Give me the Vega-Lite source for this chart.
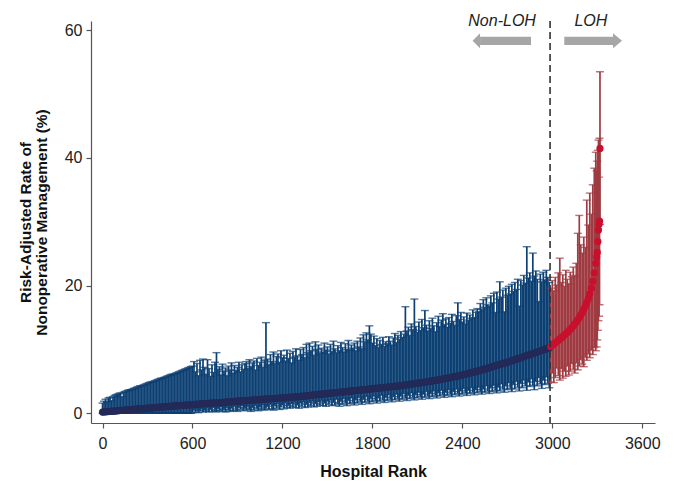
{
  "$schema": "https://vega.github.io/schema/vega-lite/v6.json",
  "width": 564,
  "height": 402,
  "autosize": {"type": "none"},
  "padding": {"left": 91, "top": 21, "right": 23, "bottom": 59},
  "background": "white",
  "config": {
    "view": {"stroke": null},
    "font": "Liberation Sans",
    "axis": {
      "grid": false,
      "domainColor": "#555555",
      "tickColor": "#555555",
      "tickSize": 5,
      "domainWidth": 1.2,
      "tickWidth": 1.2,
      "labelColor": "#222222",
      "labelFont": "Liberation Sans",
      "labelFontSize": 16,
      "titleColor": "#111111",
      "titleFont": "Liberation Sans",
      "titleFontWeight": "bold"
    }
  },
  "datasets": {
    "h": [
      {"r":0,"v":0.2,"l":0,"h":1.6},{"r":10,"v":0.22,"l":0,"h":1.9},{"r":20,"v":0.24,"l":0,"h":2.2},{"r":30,"v":0.26,"l":0,"h":1.8},{"r":40,"v":0.28,"l":0,"h":2.4},
      {"r":50,"v":0.3,"l":0,"h":2.5},{"r":60,"v":0.31,"l":0,"h":2.0},{"r":70,"v":0.33,"l":0,"h":2.6},{"r":80,"v":0.35,"l":0,"h":2.8},{"r":90,"v":0.37,"l":0,"h":2.9},
      {"r":100,"v":0.4,"l":0,"h":3.0},{"r":110,"v":0.42,"l":0,"h":3.1},{"r":120,"v":0.44,"l":0,"h":3.2},{"r":130,"v":0.46,"l":0,"h":2.6},{"r":140,"v":0.48,"l":0,"h":3.3},
      {"r":150,"v":0.5,"l":0,"h":3.4},{"r":160,"v":0.52,"l":0,"h":3.5},{"r":170,"v":0.54,"l":0,"h":3.6},{"r":180,"v":0.56,"l":0,"h":3.7},{"r":190,"v":0.58,"l":0,"h":3.7},
      {"r":200,"v":0.6,"l":0,"h":3.8},{"r":210,"v":0.62,"l":0,"h":3.9},{"r":220,"v":0.64,"l":0,"h":4.0},{"r":230,"v":0.66,"l":0,"h":4.1},{"r":240,"v":0.68,"l":0,"h":4.2},
      {"r":250,"v":0.7,"l":0,"h":4.3},{"r":260,"v":0.72,"l":0,"h":4.3},{"r":270,"v":0.74,"l":0,"h":4.4},{"r":280,"v":0.76,"l":0,"h":4.5},{"r":290,"v":0.78,"l":0,"h":4.6},
      {"r":300,"v":0.8,"l":0,"h":4.7},{"r":310,"v":0.82,"l":0,"h":4.8},{"r":320,"v":0.84,"l":0,"h":4.9},{"r":330,"v":0.86,"l":0,"h":4.9},{"r":340,"v":0.88,"l":0,"h":5.0},
      {"r":350,"v":0.9,"l":0,"h":5.1},{"r":360,"v":0.92,"l":0,"h":5.2},{"r":370,"v":0.94,"l":0,"h":5.3},{"r":380,"v":0.96,"l":0,"h":5.4},{"r":390,"v":0.98,"l":0,"h":5.5},
      {"r":400,"v":1.0,"l":0,"h":5.5},{"r":410,"v":1.02,"l":0,"h":5.6},{"r":420,"v":1.04,"l":0,"h":5.7},{"r":430,"v":1.06,"l":0,"h":5.8},{"r":440,"v":1.08,"l":0,"h":5.9},
      {"r":450,"v":1.1,"l":0,"h":6.0},{"r":460,"v":1.12,"l":0,"h":6.1},{"r":470,"v":1.14,"l":0,"h":6.1},{"r":480,"v":1.16,"l":0,"h":6.2},{"r":490,"v":1.18,"l":0,"h":6.3},
      {"r":500,"v":1.2,"l":0,"h":6.4},{"r":510,"v":1.21,"l":0,"h":6.5},{"r":520,"v":1.23,"l":0,"h":6.6},{"r":530,"v":1.24,"l":0,"h":6.7},{"r":540,"v":1.26,"l":0,"h":6.8},
      {"r":550,"v":1.27,"l":0,"h":6.9},{"r":560,"v":1.29,"l":0,"h":7.0},{"r":570,"v":1.3,"l":0,"h":7.1},{"r":580,"v":1.32,"l":0,"h":7.2},{"r":590,"v":1.33,"l":0,"h":7.3},
      {"r":600,"v":1.35,"l":0.1,"h":7.4},{"r":610,"v":1.37,"l":0.5,"h":8.1},{"r":620,"v":1.39,"l":0.2,"h":6.5},{"r":630,"v":1.41,"l":0.6,"h":7.8},{"r":640,"v":1.43,"l":0.1,"h":5.9},
      {"r":650,"v":1.45,"l":0.4,"h":8.3},{"r":660,"v":1.47,"l":0.7,"h":6.8},{"r":670,"v":1.49,"l":0.2,"h":8.5},{"r":680,"v":1.51,"l":0.5,"h":7.2},{"r":690,"v":1.53,"l":0.3,"h":6.1},
      {"r":700,"v":1.55,"l":0.8,"h":8.4},{"r":710,"v":1.56,"l":0.2,"h":7.0},{"r":720,"v":1.58,"l":0.6,"h":5.8},{"r":730,"v":1.59,"l":0.3,"h":7.6},{"r":740,"v":1.61,"l":0.9,"h":6.4},
      {"r":750,"v":1.62,"l":0.4,"h":8.0},{"r":760,"v":1.64,"l":0.2,"h":9.5},{"r":770,"v":1.65,"l":0.7,"h":6.9},{"r":780,"v":1.67,"l":0.4,"h":7.3},{"r":790,"v":1.68,"l":1.0,"h":6.0},
      {"r":800,"v":1.7,"l":0.3,"h":7.7},{"r":810,"v":1.72,"l":0.6,"h":6.6},{"r":820,"v":1.74,"l":0.2,"h":7.1},{"r":830,"v":1.76,"l":0.9,"h":5.9},{"r":840,"v":1.78,"l":0.5,"h":7.4},
      {"r":850,"v":1.8,"l":0.3,"h":6.8},{"r":860,"v":1.82,"l":0.8,"h":7.9},{"r":870,"v":1.84,"l":0.4,"h":6.3},{"r":880,"v":1.86,"l":1.1,"h":7.5},{"r":890,"v":1.88,"l":0.5,"h":6.7},
      {"r":900,"v":1.9,"l":0.3,"h":7.2},{"r":910,"v":1.91,"l":0.9,"h":8.0},{"r":920,"v":1.93,"l":0.6,"h":6.5},{"r":930,"v":1.94,"l":1.2,"h":7.6},{"r":940,"v":1.96,"l":0.4,"h":6.9},
      {"r":950,"v":1.97,"l":0.8,"h":7.8},{"r":960,"v":1.99,"l":0.5,"h":8.1},{"r":970,"v":2.0,"l":1.1,"h":7.0},{"r":980,"v":2.02,"l":0.6,"h":8.4},{"r":990,"v":2.03,"l":0.3,"h":7.3},
      {"r":1000,"v":2.05,"l":0.9,"h":7.9},{"r":1010,"v":2.07,"l":0.5,"h":8.2},{"r":1020,"v":2.09,"l":1.2,"h":6.8},{"r":1030,"v":2.11,"l":0.7,"h":8.6},{"r":1040,"v":2.13,"l":0.4,"h":7.5},
      {"r":1050,"v":2.15,"l":1.0,"h":8.0},{"r":1060,"v":2.17,"l":0.6,"h":8.8},{"r":1070,"v":2.19,"l":1.3,"h":7.2},{"r":1080,"v":2.21,"l":0.5,"h":8.3},{"r":1090,"v":2.23,"l":0.8,"h":14.2},
      {"r":1100,"v":2.25,"l":1.1,"h":8.5},{"r":1110,"v":2.26,"l":0.6,"h":7.6},{"r":1120,"v":2.28,"l":1.4,"h":9.2},{"r":1130,"v":2.29,"l":0.7,"h":8.1},{"r":1140,"v":2.31,"l":0.5,"h":9.6},
      {"r":1150,"v":2.32,"l":1.2,"h":7.8},{"r":1160,"v":2.34,"l":0.8,"h":8.9},{"r":1170,"v":2.35,"l":1.5,"h":9.3},{"r":1180,"v":2.37,"l":0.6,"h":8.0},{"r":1190,"v":2.38,"l":1.0,"h":9.8},
      {"r":1200,"v":2.4,"l":1.3,"h":8.7},{"r":1210,"v":2.42,"l":0.7,"h":9.1},{"r":1220,"v":2.44,"l":1.6,"h":8.2},{"r":1230,"v":2.46,"l":0.9,"h":9.9},{"r":1240,"v":2.48,"l":1.2,"h":8.6},
      {"r":1250,"v":2.5,"l":0.8,"h":9.4},{"r":1260,"v":2.52,"l":1.5,"h":7.9},{"r":1270,"v":2.54,"l":1.0,"h":9.7},{"r":1280,"v":2.56,"l":1.7,"h":8.8},{"r":1290,"v":2.58,"l":0.9,"h":10.1},
      {"r":1300,"v":2.6,"l":1.3,"h":9.0},{"r":1310,"v":2.62,"l":0.8,"h":8.3},{"r":1320,"v":2.64,"l":1.6,"h":10.0},{"r":1330,"v":2.66,"l":1.1,"h":9.2},{"r":1340,"v":2.68,"l":1.8,"h":10.3},
      {"r":1350,"v":2.7,"l":0.9,"h":8.7},{"r":1360,"v":2.73,"l":1.4,"h":10.8},{"r":1370,"v":2.75,"l":1.0,"h":9.5},{"r":1380,"v":2.78,"l":1.7,"h":11.0},{"r":1390,"v":2.8,"l":1.2,"h":9.8},
      {"r":1400,"v":2.85,"l":1.9,"h":10.5},{"r":1410,"v":2.87,"l":1.0,"h":9.1},{"r":1420,"v":2.9,"l":1.5,"h":11.2},{"r":1430,"v":2.92,"l":1.1,"h":10.0},{"r":1440,"v":2.95,"l":1.8,"h":10.7},
      {"r":1450,"v":2.97,"l":1.3,"h":9.4},{"r":1460,"v":3.0,"l":2.0,"h":10.2},{"r":1470,"v":3.02,"l":1.2,"h":9.6},{"r":1480,"v":3.05,"l":1.6,"h":11.0},{"r":1490,"v":3.07,"l":1.1,"h":9.9},
      {"r":1500,"v":3.1,"l":1.9,"h":10.4},{"r":1510,"v":3.12,"l":1.4,"h":9.3},{"r":1520,"v":3.15,"l":2.1,"h":10.8},{"r":1530,"v":3.17,"l":1.2,"h":9.7},{"r":1540,"v":3.2,"l":1.7,"h":11.3},
      {"r":1550,"v":3.22,"l":1.3,"h":10.1},{"r":1560,"v":3.25,"l":2.2,"h":9.5},{"r":1570,"v":3.27,"l":1.5,"h":10.6},{"r":1580,"v":3.3,"l":1.1,"h":9.8},{"r":1590,"v":3.32,"l":1.9,"h":11.1},
      {"r":1600,"v":3.35,"l":1.4,"h":10.3},{"r":1610,"v":3.37,"l":2.3,"h":9.6},{"r":1620,"v":3.4,"l":1.6,"h":10.9},{"r":1630,"v":3.42,"l":1.2,"h":10.0},{"r":1640,"v":3.45,"l":2.0,"h":11.4},
      {"r":1650,"v":3.47,"l":1.5,"h":9.9},{"r":1660,"v":3.5,"l":2.4,"h":10.7},{"r":1670,"v":3.52,"l":1.7,"h":10.2},{"r":1680,"v":3.55,"l":1.3,"h":11.0},{"r":1690,"v":3.57,"l":2.1,"h":9.8},
      {"r":1700,"v":3.6,"l":1.6,"h":11.3},{"r":1710,"v":3.62,"l":2.5,"h":10.4},{"r":1720,"v":3.65,"l":1.8,"h":11.8},{"r":1730,"v":3.67,"l":1.4,"h":10.1},{"r":1740,"v":3.7,"l":2.2,"h":12.3},
      {"r":1750,"v":3.72,"l":1.7,"h":11.2},{"r":1760,"v":3.75,"l":2.6,"h":12.6},{"r":1770,"v":3.77,"l":1.9,"h":11.5},{"r":1780,"v":3.8,"l":1.5,"h":13.7},{"r":1790,"v":3.82,"l":2.3,"h":12.4},
      {"r":1800,"v":3.85,"l":1.8,"h":11.0},{"r":1810,"v":3.87,"l":2.7,"h":12.1},{"r":1820,"v":3.9,"l":2.0,"h":10.6},{"r":1830,"v":3.92,"l":1.6,"h":11.7},{"r":1840,"v":3.95,"l":2.4,"h":10.3},
      {"r":1850,"v":3.97,"l":1.9,"h":11.4},{"r":1860,"v":4.0,"l":2.8,"h":10.8},{"r":1870,"v":4.02,"l":2.1,"h":11.9},{"r":1880,"v":4.05,"l":1.7,"h":10.5},{"r":1890,"v":4.07,"l":2.5,"h":11.2},
      {"r":1900,"v":4.1,"l":2.0,"h":10.9},{"r":1910,"v":4.12,"l":2.9,"h":12.0},{"r":1920,"v":4.15,"l":2.2,"h":11.3},{"r":1930,"v":4.17,"l":1.8,"h":10.7},{"r":1940,"v":4.2,"l":2.6,"h":11.8},
      {"r":1950,"v":4.22,"l":2.1,"h":12.5},{"r":1960,"v":4.25,"l":3.0,"h":11.1},{"r":1970,"v":4.27,"l":2.3,"h":12.2},{"r":1980,"v":4.3,"l":1.9,"h":11.6},{"r":1990,"v":4.33,"l":2.7,"h":12.8},
      {"r":2000,"v":4.36,"l":2.2,"h":11.9},{"r":2010,"v":4.4,"l":3.1,"h":12.4},{"r":2020,"v":4.43,"l":2.4,"h":16.7},{"r":2030,"v":4.47,"l":2.0,"h":12.9},{"r":2040,"v":4.5,"l":2.8,"h":13.5},
      {"r":2050,"v":4.54,"l":2.3,"h":12.2},{"r":2060,"v":4.57,"l":3.2,"h":14.0},{"r":2070,"v":4.61,"l":2.5,"h":13.1},{"r":2080,"v":4.65,"l":2.1,"h":17.9},{"r":2090,"v":4.68,"l":2.9,"h":13.6},
      {"r":2100,"v":4.72,"l":2.4,"h":12.7},{"r":2110,"v":4.75,"l":3.3,"h":14.3},{"r":2120,"v":4.79,"l":2.6,"h":13.0},{"r":2130,"v":4.82,"l":2.2,"h":14.7},{"r":2140,"v":4.86,"l":3.0,"h":13.4},
      {"r":2150,"v":4.9,"l":2.5,"h":16.1},{"r":2160,"v":4.93,"l":3.4,"h":13.8},{"r":2170,"v":4.97,"l":2.7,"h":12.9},{"r":2180,"v":5.0,"l":2.3,"h":14.5},{"r":2190,"v":5.04,"l":3.1,"h":13.3},
      {"r":2200,"v":5.08,"l":2.6,"h":14.9},{"r":2210,"v":5.12,"l":3.5,"h":13.7},{"r":2220,"v":5.16,"l":2.8,"h":12.8},{"r":2230,"v":5.2,"l":2.4,"h":14.2},{"r":2240,"v":5.25,"l":3.2,"h":15.2},
      {"r":2250,"v":5.29,"l":2.7,"h":13.6},{"r":2260,"v":5.33,"l":3.6,"h":14.6},{"r":2270,"v":5.38,"l":2.9,"h":15.6},{"r":2280,"v":5.42,"l":2.5,"h":13.9},{"r":2290,"v":5.46,"l":3.3,"h":14.8},
      {"r":2300,"v":5.5,"l":2.8,"h":13.5},{"r":2310,"v":5.55,"l":3.7,"h":15.0},{"r":2320,"v":5.6,"l":3.0,"h":14.1},{"r":2330,"v":5.65,"l":2.6,"h":15.5},{"r":2340,"v":5.7,"l":3.4,"h":14.4},
      {"r":2350,"v":5.75,"l":2.9,"h":13.8},{"r":2360,"v":5.8,"l":3.8,"h":15.3},{"r":2370,"v":5.85,"l":3.1,"h":17.3},{"r":2380,"v":5.9,"l":2.7,"h":14.7},{"r":2390,"v":5.95,"l":3.5,"h":15.8},
      {"r":2400,"v":6.0,"l":3.0,"h":14.3},{"r":2410,"v":6.06,"l":3.9,"h":15.1},{"r":2420,"v":6.12,"l":3.2,"h":14.0},{"r":2430,"v":6.18,"l":2.8,"h":15.7},{"r":2440,"v":6.24,"l":3.6,"h":14.6},
      {"r":2450,"v":6.3,"l":3.1,"h":15.4},{"r":2460,"v":6.36,"l":4.0,"h":14.9},{"r":2470,"v":6.42,"l":3.3,"h":16.2},{"r":2480,"v":6.48,"l":2.9,"h":15.0},{"r":2490,"v":6.54,"l":3.7,"h":15.8},
      {"r":2500,"v":6.6,"l":3.2,"h":16.4},{"r":2510,"v":6.67,"l":4.1,"h":15.9},{"r":2520,"v":6.74,"l":3.4,"h":17.2},{"r":2530,"v":6.81,"l":3.0,"h":16.3},{"r":2540,"v":6.88,"l":3.8,"h":17.8},
      {"r":2550,"v":6.95,"l":3.3,"h":16.6},{"r":2560,"v":7.02,"l":4.3,"h":18.1},{"r":2570,"v":7.09,"l":3.5,"h":17.0},{"r":2580,"v":7.16,"l":3.1,"h":16.8},{"r":2590,"v":7.23,"l":4.0,"h":18.4},
      {"r":2600,"v":7.3,"l":3.4,"h":17.3},{"r":2610,"v":7.37,"l":4.4,"h":18.8},{"r":2620,"v":7.44,"l":3.6,"h":15.8},{"r":2630,"v":7.51,"l":3.2,"h":19.0},{"r":2640,"v":7.58,"l":4.1,"h":17.9},
      {"r":2650,"v":7.65,"l":3.5,"h":20.6},{"r":2660,"v":7.72,"l":4.6,"h":18.2},{"r":2670,"v":7.79,"l":3.8,"h":19.3},{"r":2680,"v":7.86,"l":3.3,"h":15.9},{"r":2690,"v":7.93,"l":4.3,"h":19.6},
      {"r":2700,"v":8.0,"l":3.7,"h":18.5},{"r":2710,"v":8.08,"l":4.8,"h":19.9},{"r":2720,"v":8.16,"l":3.9,"h":18.7},{"r":2730,"v":8.24,"l":3.4,"h":20.2},{"r":2740,"v":8.32,"l":4.5,"h":19.1},
      {"r":2750,"v":8.4,"l":3.8,"h":20.5},{"r":2760,"v":8.48,"l":5.0,"h":19.4},{"r":2770,"v":8.56,"l":4.1,"h":21.0},{"r":2780,"v":8.64,"l":3.5,"h":16.8},{"r":2790,"v":8.72,"l":4.7,"h":20.8},
      {"r":2800,"v":8.8,"l":4.0,"h":20.1},{"r":2810,"v":8.88,"l":5.2,"h":21.6},{"r":2820,"v":8.96,"l":4.3,"h":20.4},{"r":2830,"v":9.04,"l":3.6,"h":26.1},{"r":2840,"v":9.12,"l":4.9,"h":21.2},
      {"r":2850,"v":9.2,"l":4.2,"h":22.0},{"r":2860,"v":9.28,"l":5.4,"h":20.7},{"r":2870,"v":9.36,"l":4.4,"h":25.1},{"r":2880,"v":9.44,"l":3.7,"h":21.5},{"r":2890,"v":9.52,"l":5.0,"h":22.3},
      {"r":2900,"v":9.6,"l":4.3,"h":21.0},{"r":2910,"v":9.68,"l":5.6,"h":17.5},{"r":2920,"v":9.76,"l":4.6,"h":21.8},{"r":2930,"v":9.84,"l":3.9,"h":20.6},{"r":2940,"v":9.92,"l":5.2,"h":22.1},
      {"r":2950,"v":10.0,"l":4.5,"h":20.9},{"r":2960,"v":10.08,"l":5.7,"h":22.4},{"r":2970,"v":10.16,"l":4.7,"h":21.3},{"r":2980,"v":10.24,"l":4.0,"h":20.5},
      {"r":2990,"v":10.45,"l":4.9,"h":19.6},{"r":3000,"v":10.65,"l":6.3,"h":20.8},{"r":3010,"v":10.85,"l":4.8,"h":19.2},{"r":3020,"v":11.05,"l":5.6,"h":21.3},{"r":3030,"v":11.25,"l":7.1,"h":20.1},
      {"r":3040,"v":11.45,"l":5.9,"h":22.0},{"r":3050,"v":11.65,"l":5.2,"h":24.3},{"r":3060,"v":11.85,"l":7.0,"h":20.5},{"r":3070,"v":12.05,"l":5.5,"h":21.7},{"r":3080,"v":12.25,"l":6.6,"h":19.9},
      {"r":3090,"v":12.45,"l":5.8,"h":22.4},{"r":3100,"v":12.65,"l":7.4,"h":21.0},{"r":3110,"v":12.9,"l":6.0,"h":20.3},{"r":3120,"v":13.15,"l":6.6,"h":22.1},{"r":3130,"v":13.4,"l":7.8,"h":21.4},
      {"r":3140,"v":13.7,"l":6.9,"h":22.9},{"r":3150,"v":14.0,"l":6.3,"h":21.6},{"r":3160,"v":14.3,"l":7.9,"h":23.5},{"r":3170,"v":14.65,"l":6.8,"h":28.2},{"r":3180,"v":15.0,"l":7.4,"h":31.0},
      {"r":3190,"v":15.4,"l":8.4,"h":26.4},{"r":3200,"v":15.8,"l":7.7,"h":25.1},{"r":3210,"v":16.3,"l":7.3,"h":27.6},{"r":3220,"v":16.8,"l":8.8,"h":26.0},{"r":3230,"v":17.4,"l":8.3,"h":33.4},
      {"r":3240,"v":18.0,"l":9.3,"h":29.5},{"r":3250,"v":18.7,"l":8.7,"h":34.5},{"r":3260,"v":19.6,"l":9.9,"h":31.2},{"r":3270,"v":20.7,"l":9.2,"h":35.8},{"r":3280,"v":22.0,"l":10.3,"h":38.4},
      {"r":3290,"v":23.5,"l":9.8,"h":40.9},{"r":3296,"v":24.5,"l":10.4,"h":38.0},{"r":3300,"v":25.2,"l":11.5,"h":39.5},{"r":3304,"v":26.9,"l":13.0,"h":41.2},{"r":3308,"v":28.7,"l":14.5,"h":42.8},
      {"r":3312,"v":29.6,"l":15.2,"h":37.0},{"r":3315,"v":30.1,"l":17.0,"h":43.1},{"r":3318,"v":41.5,"l":29.6,"h":53.5}
    ]
  },
  "layer": [
    {
      "data": {"name": "h"},
      "mark": {"type": "rule", "strokeWidth": 1.7},
      "encoding": {
        "x": {"field": "r", "type": "quantitative",
              "scale": {"domain": [-77, 3685], "nice": false, "zero": false},
              "axis": {"title": "Hospital Rank", "values": [0, 600, 1200, 1800, 2400, 3000, 3600], "format": "d", "labelPadding": 7, "titleFontSize": 16, "titlePadding": 12, "labelFlush": false}},
        "y": {"field": "l", "type": "quantitative",
              "scale": {"domain": [-1.52, 61.46], "nice": false, "zero": false},
              "axis": {"title": ["Risk-Adjusted Rate of", "Nonoperative Management (%)"], "values": [0, 20, 40, 60], "format": "d", "labelPadding": 4, "titleFontSize": 15.5, "titlePadding": 15, "titleLineHeight": 15.5, "labelFlush": false}},
        "y2": {"field": "h"},
        "color": {"condition": {"test": "datum.r >= 2985", "value": "#9f3b42"}, "value": "#0c3f72"}
      }
    },
    {
      "data": {"name": "h"},
      "mark": {"type": "tick", "orient": "horizontal", "size": 8, "thickness": 1.4},
      "encoding": {
        "x": {"field": "r", "type": "quantitative"},
        "y": {"field": "l", "type": "quantitative"},
        "color": {"condition": {"test": "datum.r >= 2985", "value": "#9f3b42"}, "value": "#0c3f72"}
      }
    },
    {
      "data": {"name": "h"},
      "mark": {"type": "tick", "orient": "horizontal", "size": 8, "thickness": 1.4},
      "encoding": {
        "x": {"field": "r", "type": "quantitative"},
        "y": {"field": "h", "type": "quantitative"},
        "color": {"condition": {"test": "datum.r >= 2985", "value": "#9f3b42"}, "value": "#0c3f72"}
      }
    },
    {
      "data": {"name": "h"},
      "mark": {"type": "circle", "size": 52, "opacity": 1},
      "encoding": {
        "x": {"field": "r", "type": "quantitative"},
        "y": {"field": "v", "type": "quantitative"},
        "color": {"condition": {"test": "datum.r >= 2985", "value": "#c8102e"}, "value": "#232a58"}
      }
    },
    {
      "data": {"values": [{"r": 2985}]},
      "mark": {"type": "rule", "color": "#333333", "strokeWidth": 1.6, "strokeDash": [7, 4]},
      "encoding": {"x": {"field": "r", "type": "quantitative"}}
    },
    {
      "data": {"values": [{"r": 2518, "r2": 2858, "v": 58.36}, {"r": 3080, "r2": 3405, "v": 58.36}]},
      "mark": {"type": "rule", "color": "#a6a6a6", "strokeWidth": 8.3, "strokeCap": "butt"},
      "encoding": {
        "x": {"field": "r", "type": "quantitative"},
        "x2": {"field": "r2"},
        "y": {"field": "v", "type": "quantitative"}
      }
    },
    {
      "data": {"values": [{"r": 2518, "v": 58.36}]},
      "mark": {"type": "point", "shape": "M-1,0L0,-1L0,1Z", "filled": true, "size": 225, "color": "#a6a6a6", "opacity": 1, "strokeWidth": 0},
      "encoding": {
        "x": {"field": "r", "type": "quantitative"},
        "y": {"field": "v", "type": "quantitative"}
      }
    },
    {
      "data": {"values": [{"r": 3405, "v": 58.36}]},
      "mark": {"type": "point", "shape": "M1.2,0L0,-1L0,1Z", "filled": true, "size": 225, "color": "#a6a6a6", "opacity": 1, "strokeWidth": 0},
      "encoding": {
        "x": {"field": "r", "type": "quantitative"},
        "y": {"field": "v", "type": "quantitative"}
      }
    },
    {
      "data": {"values": [{"r": 2665, "v": 60.66, "t": "Non-LOH"}, {"r": 3257, "v": 60.66, "t": "LOH"}]},
      "mark": {"type": "text", "fontStyle": "italic", "fontSize": 16, "font": "Liberation Sans", "color": "#222222", "align": "center", "baseline": "alphabetic"},
      "encoding": {
        "x": {"field": "r", "type": "quantitative"},
        "y": {"field": "v", "type": "quantitative"},
        "text": {"field": "t"}
      }
    }
  ]
}
